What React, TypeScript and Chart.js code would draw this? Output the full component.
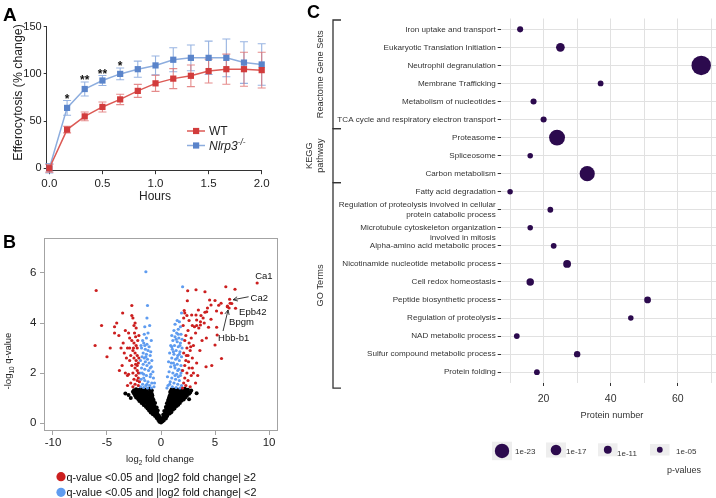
import { useEffect, useRef } from 'react';
import { Chart, registerables } from 'chart.js';
Chart.register(...registerables);

const FONT = '"Liberation Sans", Arial, Helvetica, sans-serif';
Chart.defaults.font.family = FONT;

// ---------------- Panel A data ----------------
const HOURS = [0, 0.167, 0.333, 0.5, 0.667, 0.833, 1.0, 1.167, 1.333, 1.5, 1.667, 1.833, 2.0];
const WT_MEAN = [0, 41, 55, 65, 73, 82, 90, 95, 98, 103, 105, 105, 104];
const WT_ERR = [4, 3.5, 4.6, 5.3, 5.5, 6.9, 8.5, 10.6, 11.5, 12.7, 16, 18, 19];
const KO_MEAN = [0, 64, 84, 93, 100, 105, 109, 115, 117, 117, 117, 112, 110];
const KO_ERR = [5, 7.8, 7.4, 5.3, 6.2, 8.5, 10, 12.7, 13.6, 17.7, 20, 22, 22];
const SIG = ['', '*', '**', '**', '*', '', '', '', '', '', '', '', ''];
const A_X_TICKS = [0, 0.5, 1, 1.5, 2];
const A_Y_TICKS = [0, 50, 100, 150];

// ---------------- Panel B data (log2 FC, -log10 q) ----------------
const RED_POINTS: number[][] = [
  [-6.0,5.3],[-6.1,3.1],[-5.5,3.9],[-5.0,2.65],[-4.7,3.0],[-4.3,3.85],[-4.1,4.0],[-4.3,3.6],[-3.55,4.4],[-3.9,3.5],
  [-3.85,2.1],[-3.5,3.2],[-3.6,2.3],[-3.4,2.8],[-3.2,2.6],[-3.3,2.0],[-3.1,1.9],[-3.0,1.95],[-3.1,3.0],[-3.3,3.7],
  [-3.0,3.6],[-2.7,4.7],[-2.7,4.3],[-2.6,4.2],[-2.4,4.0],[-2.5,3.9],[-2.3,3.8],[-2.45,3.6],[-2.9,3.4],[-2.35,3.45],
  [-2.7,3.3],[-2.15,3.3],[-2.5,3.2],[-2.3,3.1],[-2.2,3.0],[-2.9,3.0],[-2.6,2.9],[-2.4,2.8],[-2.2,2.7],[-2.8,2.7],
  [-2.5,2.6],[-2.9,2.5],[-2.3,2.5],[-2.1,2.4],[-2.7,2.3],[-2.4,2.2],[-2.2,2.3],[-2.2,2.1],[-2.6,2.0],[-2.1,2.0],
  [-2.3,1.9],[-2.1,1.8],[-2.5,1.75],[-2.2,1.7],[-2.8,1.6],[-2.4,1.55],[-2.1,1.5],[-2.6,1.45],[-3.1,1.5],[-3.7,3.0],
  [-2.05,2.6],[-2.05,3.5],[-2.0,1.65],[-2.55,3.0],[-2.35,2.35],
  [2.05,3.9],[2.15,4.5],[2.2,4.4],[2.4,4.3],[2.1,4.2],[2.6,4.1],[2.9,3.9],[3.1,3.85],[3.3,3.9],[3.5,3.8],
  [3.2,3.6],[2.5,3.7],[2.3,3.5],[2.8,3.4],[2.2,3.3],[2.6,3.2],[3.0,3.1],[2.75,3.05],[2.4,3.0],[2.7,2.9],
  [2.1,2.8],[2.35,2.7],[2.5,2.7],[2.9,2.6],[2.3,2.5],[3.3,2.4],[2.2,2.3],[2.6,2.2],[2.0,2.1],[2.4,2.0],
  [3.0,2.0],[2.8,1.9],[3.4,1.9],[2.2,1.8],[2.5,1.7],[2.1,1.6],[3.2,1.6],[2.3,1.5],[2.7,1.45],[2.0,1.4],
  [3.6,2.9],[3.8,3.3],[4.2,3.4],[4.4,3.83],[3.65,4.05],[3.65,3.92],[4.0,4.0],[3.7,4.3],[3.24,4.32],[4.07,4.43],
  [4.23,4.45],[3.46,4.52],[2.84,4.32],[3.3,4.12],[3.9,4.2],[4.63,4.15],[5.15,3.83],[4.3,4.6],[4.63,4.72],[4.5,4.92],
  [5.0,4.9],[4.07,5.25],[3.24,5.33],[2.47,5.29],[2.44,4.89],[5.34,4.71],[5.56,4.79],[6.0,5.45],[6.85,5.35],[6.14,4.65],
  [6.4,4.79],[6.9,4.59],[5.14,4.48],[5.6,4.4],[5.2,3.52],[5.0,3.12],[5.6,2.58],[4.17,2.25],[4.7,2.3],[2.55,2.45],[2.9,2.2]
];
const BLUE_POINTS: number[][] = [
  [-1.4,6.05],[-1.25,4.7],[-1.3,4.2],[-1.05,3.9],[-1.5,3.85],[-1.7,3.3],[-1.6,3.2],[-1.5,3.1],[-1.3,3.15],[-1.1,3.05],
  [-1.8,3.0],[-1.45,2.95],[-1.2,2.9],[-0.95,2.85],[-1.65,2.8],[-1.35,2.75],[-1.0,2.7],[-1.75,2.65],[-1.55,2.6],[-1.25,2.55],
  [-0.85,2.5],[-1.9,2.5],[-1.45,2.45],[-1.1,2.4],[-1.65,2.35],[-1.3,2.3],[-0.9,2.25],[-1.8,2.2],[-1.5,2.15],[-1.15,2.1],
  [-0.75,2.05],[-1.95,2.0],[-1.6,1.95],[-1.35,1.9],[-1.0,1.85],[-0.7,1.8],[-1.85,1.75],[-1.5,1.7],[-1.2,1.65],[-0.85,1.6],
  [-1.7,1.55],[-1.4,1.5],[-1.05,1.5],[-0.65,1.45],[-1.9,1.45],[-1.6,1.42],[-1.25,1.4],[-0.9,1.4],[-0.6,1.6],[-1.35,3.4],
  [-1.55,3.55],[-1.2,3.6],[-0.9,3.3],[-1.75,2.0],[-1.0,2.2],[-1.4,2.65],[-1.85,3.1],[-0.95,1.95],[-1.6,1.8],[-1.3,1.55],
  [2.0,5.45],[1.9,4.4],[1.7,4.05],[1.5,4.1],[1.3,3.95],[1.8,3.85],[1.6,3.75],[1.2,3.7],[1.45,3.6],[1.85,3.55],
  [1.0,3.5],[1.3,3.45],[1.65,3.4],[1.95,3.35],[1.1,3.3],[1.5,3.25],[1.8,3.2],[0.9,3.1],[1.25,3.1],[1.6,3.05],
  [1.95,3.0],[1.05,2.95],[1.4,2.9],[1.75,2.85],[0.8,2.8],[1.2,2.75],[1.55,2.7],[1.9,2.65],[1.0,2.6],[1.35,2.55],
  [1.7,2.5],[0.7,2.45],[1.15,2.4],[1.5,2.35],[1.85,2.3],[0.9,2.25],[1.3,2.2],[1.65,2.15],[1.95,2.1],[0.75,2.05],
  [1.1,2.0],[1.45,1.95],[1.8,1.9],[0.6,1.85],[1.0,1.8],[1.35,1.75],[1.7,1.7],[0.85,1.65],[1.2,1.6],[1.55,1.55],
  [1.9,1.5],[0.65,1.5],[1.05,1.45],[1.4,1.42],[1.75,1.4],[0.55,1.4],[1.6,3.55],[1.4,3.35],[1.75,3.1],[1.15,2.85],
  [1.5,2.6],[1.25,2.3],[1.6,1.85],[0.95,2.4],[1.85,2.0],[1.3,1.9],[1.7,2.75],[1.0,3.05],[1.55,2.1],[0.8,1.55]
];
const BLACK_POINTS: number[][] = [
  [-0.15,0.05],[0,0.02],[0.12,0.06],[-0.05,0.1],[0.08,0.12],[-0.25,0.12],[0.25,0.1],
  [-0.4,0.2],[-0.25,0.18],[-0.1,0.22],[0.15,0.2],[0.3,0.22],[0.45,0.18],
  [-0.55,0.28],[-0.3,0.27],[0.3,0.28],[0.55,0.27],
  [-0.75,0.35],[-0.55,0.32],[-0.35,0.38],[-0.2,0.3],[0.2,0.33],[0.4,0.36],[0.6,0.32],[0.8,0.38],
  [-0.95,0.42],[-0.65,0.43],[-0.4,0.41],[0.4,0.42],[0.65,0.41],[0.95,0.43],
  [-1.1,0.5],[-0.9,0.48],[-0.7,0.52],[-0.5,0.47],[-0.3,0.5],[0.3,0.48],[0.5,0.52],[0.7,0.47],[0.9,0.5],[1.1,0.53],
  [-1.25,0.58],[-1.0,0.57],[-0.75,0.59],[-0.5,0.57],[0.5,0.58],[0.75,0.57],[1.0,0.59],[1.25,0.58],
  [-1.4,0.65],[-1.2,0.62],[-1.0,0.68],[-0.8,0.63],[-0.6,0.66],[-0.4,0.62],[0.45,0.64],[0.65,0.67],[0.85,0.62],[1.05,0.66],[1.25,0.63],[1.45,0.68],
  [-1.6,0.72],[-1.3,0.71],[-1.1,0.73],[-0.9,0.72],[-0.65,0.71],[0.6,0.72],[0.85,0.73],[1.1,0.71],[1.35,0.72],[1.6,0.73],
  [-1.8,0.8],[-1.6,0.78],[-1.4,0.82],[-1.2,0.79],[-1.0,0.83],[-0.8,0.77],[-0.55,0.8],[0.55,0.79],[0.75,0.82],[0.95,0.78],[1.15,0.81],[1.35,0.77],[1.55,0.83],[1.75,0.8],
  [-2.0,0.88],[-1.7,0.87],[-1.45,0.89],[-1.2,0.88],[-0.95,0.87],[-0.7,0.89],[0.65,0.88],[0.9,0.87],[1.15,0.89],[1.4,0.88],[1.65,0.87],[1.9,0.89],
  [-2.1,0.95],[-1.9,0.93],[-1.7,0.97],[-1.5,0.92],[-1.3,0.96],[-1.1,0.94],[-0.9,0.98],[-0.7,0.93],[0.7,0.95],[0.9,0.92],[1.1,0.97],[1.3,0.94],[1.5,0.98],[1.7,0.93],[1.9,0.96],[2.1,0.94],
  [-2.3,1.02],[-2.05,1.03],[-1.8,1.01],[-1.55,1.02],[-1.3,1.03],[-1.05,1.01],[-0.8,1.02],[0.75,1.02],[1.0,1.01],[1.25,1.03],[1.5,1.02],[1.75,1.01],[2.0,1.03],[2.25,1.02],
  [-2.4,1.1],[-2.2,1.08],[-2.0,1.12],[-1.8,1.07],[-1.6,1.11],[-1.4,1.09],[-1.2,1.13],[-1.0,1.06],[-0.8,1.1],[0.8,1.09],[1.0,1.12],[1.2,1.07],[1.4,1.11],[1.6,1.08],[1.8,1.12],[2.0,1.06],[2.2,1.1],[2.4,1.09],
  [-2.5,1.18],[-2.25,1.17],[-2.0,1.19],[-1.75,1.18],[-1.5,1.17],[-1.25,1.19],[-1.0,1.18],[-0.85,1.17],[0.9,1.18],[1.15,1.17],[1.4,1.19],[1.65,1.18],[1.9,1.17],[2.15,1.19],[2.4,1.18],[2.6,1.17],
  [-2.6,1.25],[-2.4,1.23],[-2.2,1.27],[-2.0,1.22],[-1.8,1.26],[-1.6,1.24],[-1.4,1.28],[-1.2,1.21],[-1.0,1.25],[-0.85,1.3],[0.85,1.24],[1.05,1.27],[1.25,1.22],[1.45,1.26],[1.65,1.23],[1.85,1.28],[2.05,1.21],[2.25,1.25],[2.45,1.27],[2.7,1.22],
  [-2.5,1.31],[-2.1,1.32],[-1.7,1.31],[-1.3,1.32],[-0.95,1.33],[0.95,1.31],[1.2,1.33],[1.6,1.32],[2.0,1.31],[2.35,1.32],[2.8,1.3],
  [-2.3,1.35],[-1.9,1.36],[-1.5,1.34],[-1.1,1.37],[1.0,1.35],[1.4,1.36],[1.8,1.34],[2.2,1.37],[2.5,1.33],
  [-3.3,1.18],[-3.0,1.12],[3.3,1.19],[-2.8,1.0],[2.6,0.95]
];
const GENE_NAMES = ['Ca1', 'Ca2', 'Epb42', 'Bpgm', 'Hbb-b1'];
const GENE_FC = [8.9, 6.35, 6.55, 6.15, 6.3];
const GENE_Q = [5.6, 4.95, 4.78, 4.68, 4.6];
const B_X_TICKS = [-10, -5, 0, 5, 10];
const B_Y_TICKS = [0, 2, 4, 6];
const B_LEGEND = ['q-value <0.05 and |log2 fold change| \u22652', 'q-value <0.05 and |log2 fold change| <2'];

// ---------------- Panel C data ----------------
const TERMS = [
  'Iron uptake and transport',
  'Eukaryotic Translation Initiation',
  'Neutrophil degranulation',
  'Membrane Trafficking',
  'Metabolism of nucleotides',
  'TCA cycle and respiratory electron transport',
  'Proteasome',
  'Spliceosome',
  'Carbon metabolism',
  'Fatty acid degradation',
  'Regulation of proteolysis involved in cellular\nprotein catabolic process',
  '\nMicrotubule cytoskeleton organization\ninvolved in mitosis',
  'Alpha-amino acid metabolic proces',
  'Nicotinamide nucleotide metabolic process',
  'Cell redox homeostasis',
  'Peptide biosynthetic process',
  'Regulation of proteolysis',
  'NAD metabolic process',
  'Sulfur compound metabolic process',
  'Protein folding'
];
const PROTEIN_COUNT = [13, 25, 67, 37, 17, 20, 24, 16, 33, 10, 22, 16, 23, 27, 16, 51, 46, 12, 30, 18];
const NEG_LOG10_P = [6, 13, 29, 5, 6, 6, 25, 4, 24, 4, 5, 4, 5, 11, 10, 8, 4, 5, 7, 5];
const GROUP_NAMES = [['Reactome Gene Sets'], ['KEGG', 'pathway'], ['GO Terms']];
const GROUP_FIRST = [0, 6, 9];
const GROUP_LAST = [5, 8, 19];
const C_X_TICKS = [10, 20, 30, 40, 50, 60, 70];
const LEGEND_P = [23, 17, 11, 5];
const LEGEND_LABELS = ['1e-23', '1e-17', '1e-11', '1e-05'];

const DOT = '#2c0a4e';
const rad = (v: number) => 2.9 * Math.exp(0.0505 * (v - 5));

type Seg = { t: string; sub?: boolean; sup?: boolean; italic?: boolean; bold?: boolean };
function drawRich(ctx: CanvasRenderingContext2D, segs: Seg[], x: number, y: number, size: number, align: 'left' | 'center', color: string) {
  const f = (s: Seg) => `${s.italic ? 'italic ' : ''}${s.bold ? 'bold ' : ''}${s.sub || s.sup ? size * 0.68 : size}px ${FONT}`;
  let w = 0;
  segs.forEach((s) => { ctx.font = f(s); w += ctx.measureText(s.t).width; });
  let cx = align === 'center' ? x - w / 2 : x;
  ctx.textAlign = 'left';
  ctx.textBaseline = 'alphabetic';
  ctx.fillStyle = color;
  segs.forEach((s) => {
    ctx.font = f(s);
    const dy = s.sub ? size * 0.28 : s.sup ? -size * 0.38 : 0;
    ctx.fillText(s.t, cx, y + dy);
    cx += ctx.measureText(s.t).width;
  });
}
function midText(ctx: CanvasRenderingContext2D, segs: Seg[], x: number, cy: number, size: number, align: 'left' | 'center', color: string) {
  drawRich(ctx, segs, x, cy + size * 0.36, size, align, color);
}
function rotText(ctx: CanvasRenderingContext2D, segs: Seg[], cx: number, cy: number, size: number, color: string) {
  ctx.save();
  ctx.translate(cx, cy);
  ctx.rotate(-Math.PI / 2);
  drawRich(ctx, segs, 0, size * 0.36, size, 'center', color);
  ctx.restore();
}
function arrow(ctx: CanvasRenderingContext2D, x1: number, y1: number, x2: number, y2: number) {
  const a = Math.atan2(y2 - y1, x2 - x1);
  const L = 5;
  ctx.beginPath();
  ctx.moveTo(x1, y1);
  ctx.lineTo(x2, y2);
  ctx.moveTo(x2 - L * Math.cos(a - 0.45), y2 - L * Math.sin(a - 0.45));
  ctx.lineTo(x2, y2);
  ctx.lineTo(x2 - L * Math.cos(a + 0.45), y2 - L * Math.sin(a + 0.45));
  ctx.stroke();
}

// ---------------- Panel A ----------------
const RED = '#d23c3c';
const RED_LINE = '#dc5a55';
const BLUE = '#5a84ca';
const BLUE_LINE = '#8dadde';

const panelAPlugin = {
  id: 'panelA',
  beforeDatasetsDraw(chart: any) {
    const { ctx } = chart;
    const x = chart.scales.x, y = chart.scales.y;
    const series: [number[], number[], string][] = [
      [KO_MEAN, KO_ERR, 'rgba(125,160,218,0.8)'],
      [WT_MEAN, WT_ERR, 'rgba(222,110,110,0.8)']
    ];
    ctx.save();
    ctx.lineWidth = 1.1;
    for (const [m, e, c] of series) {
      ctx.strokeStyle = c;
      for (let i = 0; i < HOURS.length; i++) {
        const px = x.getPixelForValue(HOURS[i]);
        const t = y.getPixelForValue(m[i] + e[i]);
        const b = y.getPixelForValue(m[i] - e[i]);
        ctx.beginPath();
        ctx.moveTo(px, t); ctx.lineTo(px, b);
        ctx.moveTo(px - 4, t); ctx.lineTo(px + 4, t);
        ctx.moveTo(px - 4, b); ctx.lineTo(px + 4, b);
        ctx.stroke();
      }
    }
    ctx.restore();
  },
  afterDraw(chart: any) {
    const { ctx } = chart;
    const x = chart.scales.x, y = chart.scales.y;
    ctx.save();
    for (let i = 0; i < HOURS.length; i++) {
      if (!SIG[i]) continue;
      const px = x.getPixelForValue(HOURS[i]);
      const top = y.getPixelForValue(KO_MEAN[i] + KO_ERR[i]);
      ctx.font = `bold 12px ${FONT}`;
      ctx.textAlign = 'center';
      ctx.textBaseline = 'alphabetic';
      ctx.fillStyle = '#111';
      ctx.fillText(SIG[i], px, top + 2);
    }
    const items: [string, string, Seg[], number][] = [
      [RED_LINE, RED, [{ t: 'WT' }], 131],
      [BLUE_LINE, BLUE, [{ t: 'Nlrp3', italic: true }, { t: '-/-', italic: true, sup: true }], 145.5]
    ];
    for (const [lc, pc, segs, ly] of items) {
      ctx.strokeStyle = lc; ctx.lineWidth = 1.5;
      ctx.beginPath(); ctx.moveTo(187, ly); ctx.lineTo(205, ly); ctx.stroke();
      ctx.fillStyle = pc; ctx.fillRect(193, ly - 3.1, 6.2, 6.2);
      midText(ctx, segs, 209, ly, 12, 'left', '#222');
    }
    midText(ctx, [{ t: 'Hours' }], 155, 196, 12, 'center', '#222');
    rotText(ctx, [{ t: 'Efferocytosis (% change)' }], 17.5, 92.5, 12.3, '#222');
    drawRich(ctx, [{ t: 'A', bold: true }], 3, 21, 19, 'left', '#000');
    ctx.restore();
  }
};

const configA = (): any => ({
  type: 'scatter',
  data: {
    datasets: [
      {
        label: 'WT', data: HOURS.map((h, i) => ({ x: h, y: WT_MEAN[i] })), showLine: true,
        borderColor: RED_LINE, borderWidth: 1.5, pointStyle: 'rect', pointRadius: 4.4,
        pointBackgroundColor: RED, pointBorderColor: RED, pointBorderWidth: 0, clip: false
      },
      {
        label: 'Nlrp3-/-', data: HOURS.map((h, i) => ({ x: h, y: KO_MEAN[i] })), showLine: true,
        borderColor: BLUE_LINE, borderWidth: 1.5, pointStyle: 'rect', pointRadius: 4.4,
        pointBackgroundColor: BLUE, pointBorderColor: BLUE, pointBorderWidth: 0, clip: false
      }
    ]
  },
  options: {
    responsive: false, animation: false, events: [],
    layout: { padding: { left: 0, top: 26.7, right: 28.3, bottom: 0 } },
    plugins: { legend: { display: false }, tooltip: { enabled: false } },
    scales: {
      x: {
        type: 'linear', min: -0.025, max: 2,
        afterBuildTicks: (s: any) => { s.ticks = A_X_TICKS.map((v) => ({ value: v })); },
        afterFit: (s: any) => { s.height = 39.8; },
        ticks: { callback: (v: any) => Number(v).toFixed(1), font: { size: 11.5 }, color: '#222', padding: 3, maxRotation: 0, autoSkip: false },
        grid: { drawOnChartArea: false, drawTicks: true, tickLength: 4, color: '#333', lineWidth: 1 },
        border: { display: true, color: '#333', width: 1 }
      },
      y: {
        type: 'linear', min: -2, max: 150,
        afterBuildTicks: (s: any) => { s.ticks = A_Y_TICKS.map((v) => ({ value: v })); },
        afterFit: (s: any) => { s.width = 46.7; },
        ticks: { font: { size: 11 }, color: '#222', padding: 2, autoSkip: false },
        grid: { drawOnChartArea: false, drawTicks: true, tickLength: 3, color: '#333', lineWidth: 1 },
        border: { display: true, color: '#333', width: 1 }
      }
    }
  },
  plugins: [panelAPlugin]
});

// ---------------- Panel B ----------------
const V_RED = '#cc1f1f';
const V_BLUE = '#5f9cf0';
const B_TOP = 225;

const panelBPlugin = {
  id: 'panelB',
  beforeDatasetsDraw(chart: any) {
    const { ctx, chartArea: a } = chart;
    ctx.save();
    ctx.strokeStyle = '#a3a3a3';
    ctx.lineWidth = 1;
    ctx.strokeRect(a.left + 0.5, a.top + 0.5, a.right - a.left - 1, a.bottom - a.top - 1);
    ctx.restore();
  },
  afterDraw(chart: any) {
    const { ctx } = chart;
    const x = chart.scales.x, y = chart.scales.y;
    ctx.save();
    ctx.strokeStyle = '#222';
    ctx.lineWidth = 0.9;
    for (let i = 0; i < GENE_NAMES.length; i++) {
      const px = x.getPixelForValue(GENE_FC[i]);
      const py = y.getPixelForValue(GENE_Q[i]);
      const n = GENE_NAMES[i];
      if (n === 'Ca1') midText(ctx, [{ t: n }], px - 2, py - 7, 9.5, 'left', '#111');
      if (n === 'Ca2') {
        midText(ctx, [{ t: n }], px + 21, py - 2, 9.5, 'left', '#111');
        arrow(ctx, px + 19, py - 2.5, px + 3.5, py + 0.5);
      }
      if (n === 'Epb42') midText(ctx, [{ t: n }], px + 7.3, py + 8, 9.5, 'left', '#111');
      if (n === 'Bpgm') midText(ctx, [{ t: n }], px + 1.6, py + 16, 9.5, 'left', '#111');
      if (n === 'Hbb-b1') {
        midText(ctx, [{ t: n }], px - 11, py + 29.5, 9.5, 'left', '#111');
        arrow(ctx, px - 6, py + 23, px - 1, py + 2);
      }
    }
    ctx.translate(0, -B_TOP);
    drawRich(ctx, [{ t: 'B', bold: true }], 3, 248, 18, 'left', '#000');
    midText(ctx, [{ t: 'log' }, { t: '2', sub: true }, { t: ' fold change' }], 160, 459, 9.5, 'center', '#222');
    rotText(ctx, [{ t: '-log' }, { t: '10', sub: true }, { t: ' q-value' }], 7.5, 361, 9.5, '#222');
    const cols = [V_RED, V_BLUE];
    const ys = [476.7, 492.3];
    for (let i = 0; i < 2; i++) {
      ctx.fillStyle = cols[i];
      ctx.beginPath(); ctx.arc(61, ys[i], 4.6, 0, Math.PI * 2); ctx.fill();
      midText(ctx, [{ t: B_LEGEND[i] }], 66.5, ys[i], 10.8, 'left', '#111');
    }
    ctx.restore();
  }
};

const configB = (): any => ({
  type: 'scatter',
  data: {
    datasets: [
      {
        data: RED_POINTS.concat(GENE_FC.map((f, i) => [f, GENE_Q[i]])).map((p) => ({ x: p[0], y: p[1] })),
        pointRadius: 1.6, pointBackgroundColor: V_RED, pointBorderWidth: 0, borderWidth: 0
      },
      {
        data: BLUE_POINTS.map((p) => ({ x: p[0], y: p[1] })),
        pointRadius: 1.6, pointBackgroundColor: V_BLUE, pointBorderWidth: 0, borderWidth: 0
      },
      {
        data: BLACK_POINTS.map((p) => ({ x: p[0], y: p[1] })),
        pointRadius: 2.0, pointBackgroundColor: '#000', pointBorderWidth: 0, borderWidth: 0
      }
    ]
  },
  options: {
    responsive: false, animation: false, events: [],
    layout: { padding: { left: 0, top: 13, right: 12, bottom: 0 } },
    plugins: { legend: { display: false }, tooltip: { enabled: false } },
    scales: {
      x: {
        type: 'linear', min: -10.83, max: 10.83,
        afterBuildTicks: (s: any) => { s.ticks = B_X_TICKS.map((v) => ({ value: v })); },
        afterFit: (s: any) => { s.height = 67; },
        ticks: { font: { size: 11.5 }, color: '#222', padding: 1, maxRotation: 0, autoSkip: false },
        grid: { drawOnChartArea: false, drawTicks: true, tickLength: 4, color: '#a3a3a3', lineWidth: 1 },
        border: { display: false }
      },
      y: {
        type: 'linear', min: -0.32, max: 7.4,
        afterBuildTicks: (s: any) => { s.ticks = B_Y_TICKS.map((v) => ({ value: v })); },
        afterFit: (s: any) => { s.width = 44; },
        ticks: { font: { size: 11.5 }, color: '#222', padding: 3.5, autoSkip: false },
        grid: { drawOnChartArea: false, drawTicks: true, tickLength: 4, color: '#a3a3a3', lineWidth: 1 },
        border: { display: false }
      }
    }
  },
  plugins: [panelBPlugin]
});

// ---------------- Panel C ----------------
const C_LEFT = 290;

const panelCPlugin = {
  id: 'panelC',
  afterDraw(chart: any) {
    const { ctx } = chart;
    const y = chart.scales.y;
    ctx.save();
    ctx.translate(-C_LEFT, 0);
    drawRich(ctx, [{ t: 'C', bold: true }], 307, 17.5, 18, 'left', '#000');
    ctx.strokeStyle = '#333';
    ctx.lineWidth = 1.3;
    const bx = 333;
    for (let g = 0; g < GROUP_NAMES.length; g++) {
      const top = y.getPixelForValue(GROUP_FIRST[g] - 0.5) - (g === 0 ? 0.3 : 0);
      const bot = y.getPixelForValue(GROUP_LAST[g] + 0.5) + (g === GROUP_NAMES.length - 1 ? 7 : 0);
      ctx.beginPath();
      ctx.moveTo(bx + 8, top); ctx.lineTo(bx, top); ctx.lineTo(bx, bot); ctx.lineTo(bx + 8, bot);
      ctx.stroke();
      const mid = (top + bot) / 2;
      const lines = GROUP_NAMES[g];
      if (lines.length === 1) rotText(ctx, [{ t: lines[0] }], 319.5, mid, 9.2, '#333');
      else {
        rotText(ctx, [{ t: lines[0] }], 308.5, mid, 9.2, '#333');
        rotText(ctx, [{ t: lines[1] }], 320, mid, 9.2, '#333');
      }
    }
    midText(ctx, [{ t: 'Protein number' }], 612, 415, 9.2, 'center', '#333');
    const boxes = [[492, 441.7, 20, 18.5], [546, 442.5, 20, 15], [598, 443.3, 19.5, 13], [650, 444, 19.5, 11.5]];
    const cxs = [502, 556, 607.8, 659.8];
    const tx = [515, 566, 617, 676];
    for (let i = 0; i < LEGEND_P.length; i++) {
      const b = boxes[i];
      ctx.fillStyle = '#eeeeee';
      ctx.fillRect(b[0], b[1], b[2], b[3]);
      ctx.fillStyle = DOT;
      ctx.beginPath(); ctx.arc(cxs[i], b[1] + b[3] / 2, rad(LEGEND_P[i]), 0, Math.PI * 2); ctx.fill();
      midText(ctx, [{ t: LEGEND_LABELS[i] }], tx[i], 451.5 + (i === 2 ? 1.2 : 0), 8, 'left', '#333');
    }
    midText(ctx, [{ t: 'p-values' }], 684, 470, 9, 'center', '#333');
    ctx.restore();
  }
};

const configC = (): any => ({
  type: 'scatter',
  data: {
    datasets: [{
      data: PROTEIN_COUNT.map((c, i) => ({ x: c, y: i })),
      pointRadius: (c: any) => rad(NEG_LOG10_P[c.dataIndex]),
      pointBackgroundColor: DOT, pointBorderWidth: 0, borderWidth: 0
    }]
  },
  options: {
    responsive: false, animation: false, events: [],
    layout: { padding: { left: 0, top: 18.5, right: 14, bottom: 0 } },
    plugins: { legend: { display: false }, tooltip: { enabled: false } },
    scales: {
      x: {
        type: 'linear', min: 7.2, max: 72.6,
        afterBuildTicks: (s: any) => { s.ticks = C_X_TICKS.map((v) => ({ value: v })); },
        afterFit: (s: any) => { s.height = 115; },
        ticks: { callback: (v: any) => (v % 20 === 0 ? String(v) : ''), font: { size: 10.5 }, color: '#333', padding: 7, maxRotation: 0, autoSkip: false },
        grid: {
          color: '#e1e1e1', lineWidth: 1, drawTicks: true, tickLength: 3,
          tickColor: (c: any) => (c.tick && c.tick.value % 20 === 0 ? '#333' : 'rgba(0,0,0,0)')
        },
        border: { display: false }
      },
      y: {
        type: 'linear', reverse: true, min: -0.6, max: 19.6,
        afterBuildTicks: (s: any) => { s.ticks = TERMS.map((_, i) => ({ value: i })); },
        afterFit: (s: any) => { s.width = 210.7; },
        ticks: {
          callback: (_v: any, i: number) => (TERMS[i].includes('\n') ? TERMS[i].split('\n') : TERMS[i]),
          font: { size: 8.1, lineHeight: 1.2 }, color: '#333', padding: 2, autoSkip: false
        },
        grid: { color: '#e1e1e1', lineWidth: 1, drawTicks: true, tickLength: 3, tickColor: '#333' },
        border: { display: false }
      }
    }
  },
  plugins: [panelCPlugin]
});

export default function App() {
  const refA = useRef<HTMLCanvasElement>(null);
  const refB = useRef<HTMLCanvasElement>(null);
  const refC = useRef<HTMLCanvasElement>(null);
  useEffect(() => {
    const charts = [
      new Chart(refA.current as HTMLCanvasElement, configA()),
      new Chart(refB.current as HTMLCanvasElement, configB()),
      new Chart(refC.current as HTMLCanvasElement, configC())
    ];
    return () => charts.forEach((c) => c.destroy());
  }, []);
  return (
    <div style={{ position: 'fixed', left: 0, top: 0, width: 716, height: 498, background: '#fff', overflow: 'hidden' }}>
      <canvas ref={refA} width={290} height={210} style={{ position: 'absolute', left: 0, top: 0 }} />
      <canvas ref={refB} width={290} height={273} style={{ position: 'absolute', left: 0, top: B_TOP }} />
      <canvas ref={refC} width={444} height={498} style={{ position: 'absolute', left: C_LEFT, top: 0 }} />
    </div>
  );
}
